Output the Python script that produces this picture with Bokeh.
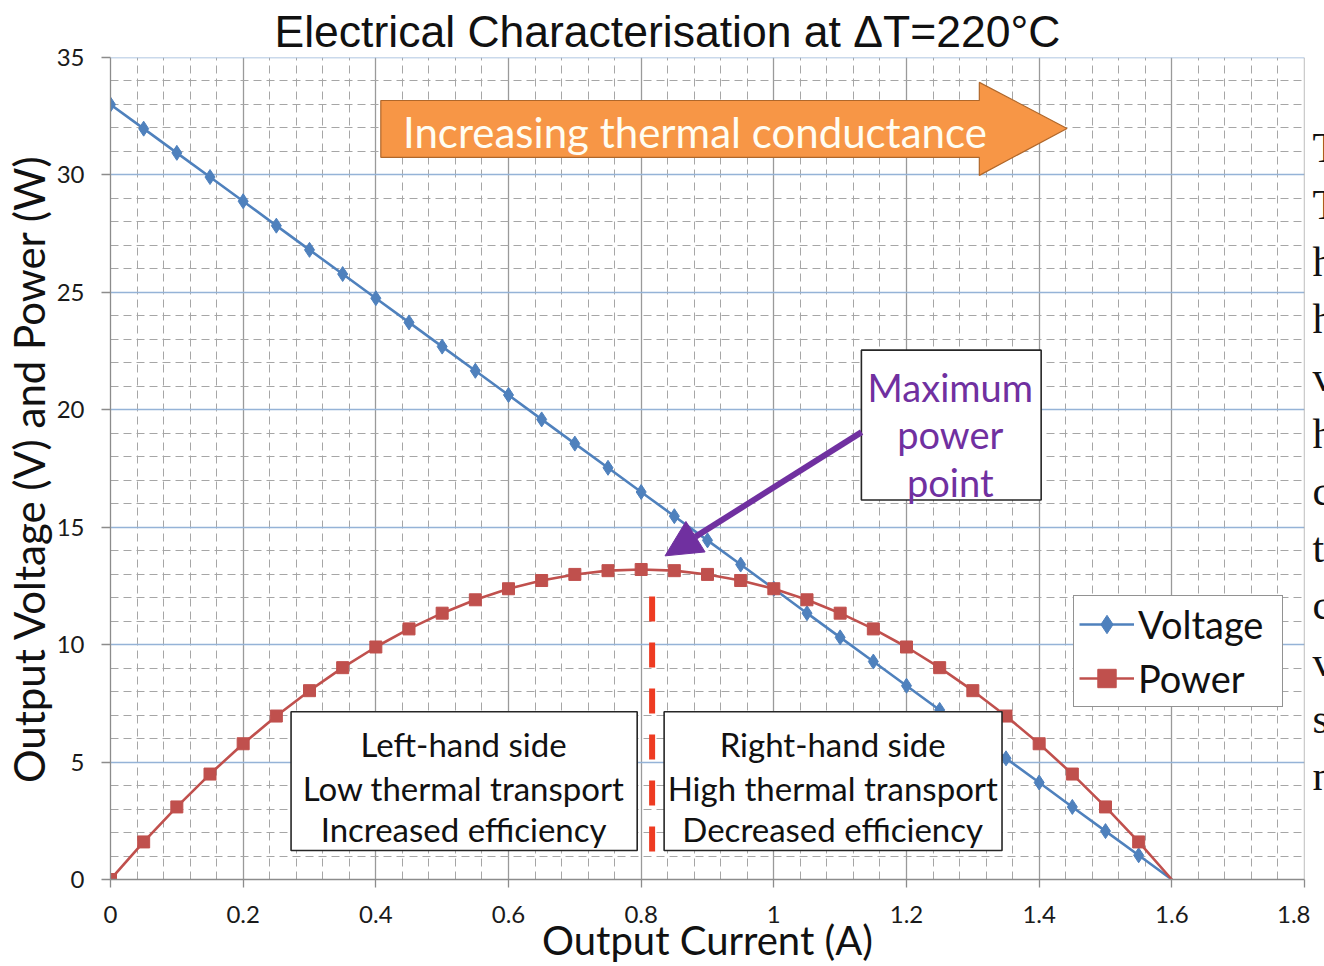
import math
import numpy as np
from bokeh.plotting import figure
from bokeh.layouts import row
from bokeh.models import (Range1d, FixedTicker, NumeralTickFormatter, Label, BoxAnnotation,
                          PolyAnnotation, Arrow, NormalHead, Legend, LegendItem, Span)
from bokeh.embed import file_html
from bokeh.resources import INLINE

# ---------------- data ----------------
current = [0.00, 0.05, 0.10, 0.15, 0.20, 0.25, 0.30, 0.35, 0.40, 0.45, 0.50,
           0.55, 0.60, 0.65, 0.70, 0.75, 0.80, 0.85, 0.90, 0.95, 1.00, 1.05,
           1.10, 1.15, 1.20, 1.25, 1.30, 1.35, 1.40, 1.45, 1.50, 1.55, 1.60]
voltage = [33.0, 31.97, 30.94, 29.91, 28.88, 27.84, 26.81, 25.78, 24.75, 23.72, 22.69,
           21.66, 20.63, 19.59, 18.56, 17.53, 16.5, 15.47, 14.44, 13.41, 12.38, 11.34,
           10.31, 9.28, 8.25, 7.22, 6.19, 5.16, 4.13, 3.09, 2.06, 1.03, 0.0]
power = [0.0, 1.60, 3.09, 4.49, 5.78, 6.96, 8.04, 9.02, 9.90, 10.67, 11.34,
         11.91, 12.38, 12.73, 12.99, 13.15, 13.2, 13.15, 12.99, 12.73, 12.38, 11.91,
         11.34, 10.67, 9.90, 9.02, 8.04, 6.96, 5.78, 4.49, 3.09, 1.60, 0.0]
x_ticks = [0, 0.2, 0.4, 0.6, 0.8, 1.0, 1.2, 1.4, 1.6, 1.8]
y_ticks = [0, 5, 10, 15, 20, 25, 30, 35]
series_names = ["Voltage", "Power"]

title_text = "Electrical Characterisation at \u0394T=220\u00b0C"
x_title = "Output Current (A)"
y_title = "Output Voltage (V) and Power (W)"
arrow_text = "Increasing thermal conductance"
mpp_text = ["Maximum", "power", "point"]
left_text = ["Left-hand side", "Low thermal transport", "Increased efficiency"]
right_text = ["Right-hand side", "High thermal transport", "Decreased efficiency"]
side_letters = ["T", "T", "h", "h", "v", "h", "c", "t", "c", "v", "s", "n"]

# ---------------- styling ----------------
VCOL = "#4F81BD"
PCOL = "#C0504D"
SANS = "Lato"
W, H = 1310, 966
TOP, BOTTOM = 57, 86

p = figure(width=W, height=H, output_backend="svg", toolbar_location=None,
           title=title_text,
           x_range=Range1d(0, 1.8), y_range=Range1d(0, 35),
           min_border_left=107, min_border_right=6, min_border_top=TOP, min_border_bottom=BOTTOM)
p.outline_line_color = None
p.background_fill_color = "white"
p.border_fill_color = "white"

p.title.align = "left"
p.title.offset = 164
p.title.standoff = 0
p.title.vertical_align = "top"
p.title.text_font = "Liberation Sans"
p.title.text_font_size = "44.5px"
p.title.text_font_style = "normal"
p.title.text_color = "#111111"

x_minor = [round(v, 2) for v in np.arange(0, 1.8001, 0.04) if abs(v / 0.2 - round(v / 0.2)) > 1e-6]
y_minor = [v for v in range(0, 36) if v % 5 != 0]
p.xaxis.ticker = FixedTicker(ticks=x_ticks, minor_ticks=x_minor)
p.yaxis.ticker = FixedTicker(ticks=y_ticks, minor_ticks=y_minor)
p.xaxis.formatter = NumeralTickFormatter(format="0.[0]")

for ax in (p.xaxis[0], p.yaxis[0]):
    ax.axis_line_color = "#8C8C8C"
    ax.axis_line_width = 1.3
    ax.major_tick_line_color = "#8C8C8C"
    ax.major_tick_line_width = 1.3
    ax.major_tick_in = 0
    ax.minor_tick_line_color = None
    ax.major_label_text_font = SANS
    ax.major_label_text_font_size = "24px"
    ax.major_label_text_color = "#1A1A1A"
    ax.axis_label_text_font = SANS
    ax.axis_label_text_font_style = "normal"
    ax.axis_label_text_color = "#111111"
p.xaxis.major_tick_out = 8
p.xaxis.major_label_standoff = 18
p.xaxis.axis_label = x_title
p.xaxis.axis_label_text_font_size = "40px"
p.xaxis.axis_label_standoff = -10
p.yaxis.major_tick_out = 9
p.yaxis.major_label_standoff = 17
p.yaxis.axis_label = y_title
p.yaxis.axis_label_text_font_size = "42px"
p.yaxis.axis_label_standoff = 0

p.xgrid.grid_line_color = "#9A9A9A"
p.xgrid.grid_line_width = 1.3
p.xgrid.minor_grid_line_color = "#A6A6A6"
p.xgrid.minor_grid_line_dash = "8 5"
p.xgrid.minor_grid_line_width = 1
p.ygrid.grid_line_color = "#95B3D7"
p.ygrid.grid_line_width = 1.6
p.ygrid.minor_grid_line_color = "#A6A6A6"
p.ygrid.minor_grid_line_dash = "8 5"
p.ygrid.minor_grid_line_width = 1

p.add_layout(Span(location=1.8, dimension="height", line_color="#9A9A9A", line_width=1.3))
p.add_layout(Span(location=35, dimension="width", line_color="#95B3D7", line_width=1.6))

# ---------------- series ----------------
lv = p.line(current, voltage, line_color=VCOL, line_width=2.6)
mv = p.scatter(current[:-1], voltage[:-1], marker="diamond", size=15, color=VCOL)
lp = p.line(current, power, line_color=PCOL, line_width=2.6)
mp = p.scatter(current[:-1], power[:-1], marker="square", size=12, color=PCOL)

# max power point dashed marker line
mpp_line_x = 0.8165
p.segment(x0=[mpp_line_x], y0=[12.05], x1=[mpp_line_x], y1=[1.0],
          line_color="#EE3B22", line_width=6, line_dash="25 21")

# ---------------- annotations ----------------
p.add_layout(PolyAnnotation(xs=[0.4075, 1.3098, 1.3098, 1.442, 1.3098, 1.3098, 0.4075],
                            ys=[33.17, 33.17, 33.94, 31.98, 29.98, 30.75, 30.75],
                            fill_color="#F79646", fill_alpha=1.0,
                            line_color="#B0672A", line_alpha=1.0, line_width=1.2))
p.add_layout(Label(x=0.881, y=31.81, text=arrow_text, text_align="center",
                   text_baseline="middle", text_font=SANS, text_font_size="42px",
                   text_color="#FFFDF2"))

boxes = [(1.132, 1.403, 22.54, 16.16), (0.2722, 0.794, 7.145, 1.233), (0.8346, 1.344, 7.145, 1.233)]
for l, r, t, b in boxes:
    p.add_layout(BoxAnnotation(left=l, right=r, top=t, bottom=b, fill_color="white",
                               fill_alpha=1.0, line_color="#262626", line_alpha=1.0,
                               line_width=1.6))

for txt, yy in zip(mpp_text, [20.97, 18.97, 16.93]):
    p.add_layout(Label(x=1.266, y=yy, text=txt, text_align="center", text_baseline="middle",
                       text_font=SANS, text_font_size="38px", text_color="#7030A0"))
for txt, yy in zip(left_text, [5.78, 3.91, 2.13]):
    p.add_layout(Label(x=0.5323, y=yy, text=txt, text_align="center", text_baseline="middle",
                       text_font=SANS, text_font_size="33px", text_color="#111111"))
for txt, yy in zip(right_text, [5.78, 3.91, 2.13]):
    p.add_layout(Label(x=1.0887, y=yy, text=txt, text_align="center", text_baseline="middle",
                       text_font=SANS, text_font_size="33px", text_color="#111111"))

p.add_layout(Arrow(x_start=1.1323, y_start=19.05, x_end=0.836, y_end=13.78,
                   line_color="#7030A0", line_width=6,
                   end=NormalHead(size=36, fill_color="#7030A0", line_color="#7030A0")))

# legend
legend = Legend(items=[LegendItem(label=series_names[0], renderers=[lv, mv]),
                       LegendItem(label=series_names[1], renderers=[lp, mp])],
                location=(963, 172), orientation="vertical",
                padding=5, spacing=8, margin=0,
                glyph_width=55, glyph_height=46, label_height=46, label_width=139,
                label_standoff=4, label_text_font=SANS, label_text_font_size="38px",
                label_text_color="#111111", label_text_baseline="middle",
                border_line_color="#262626", border_line_width=1.5,
                background_fill_color="white", background_fill_alpha=1.0)
p.add_layout(legend)

# ---------------- cut-off page text at the right edge ----------------
# this strip's frame is aligned with the main plot frame (rows TOP .. H-BOTTOM),
# so its y range is given in page pixels counted from the bottom
q = figure(width=14, height=H, output_backend="svg", toolbar_location=None,
           x_range=Range1d(0, 14), y_range=Range1d(BOTTOM, H - TOP), min_border=0,
           x_axis_location=None, y_axis_location=None)
q.grid.visible = False
q.outline_line_color = None
q.border_fill_color = "white"
q.background_fill_color = "white"
for i, ch in enumerate(side_letters):
    base_px = 148 + 57.1 * i
    q.add_layout(Label(x=2, y=H - base_px, text=ch, text_align="left",
                       text_baseline="alphabetic", text_font="Liberation Serif",
                       text_font_size="42px", text_color="#111111"))

layout = row(p, q)
open("out.html", "w").write(file_html(layout, INLINE))
